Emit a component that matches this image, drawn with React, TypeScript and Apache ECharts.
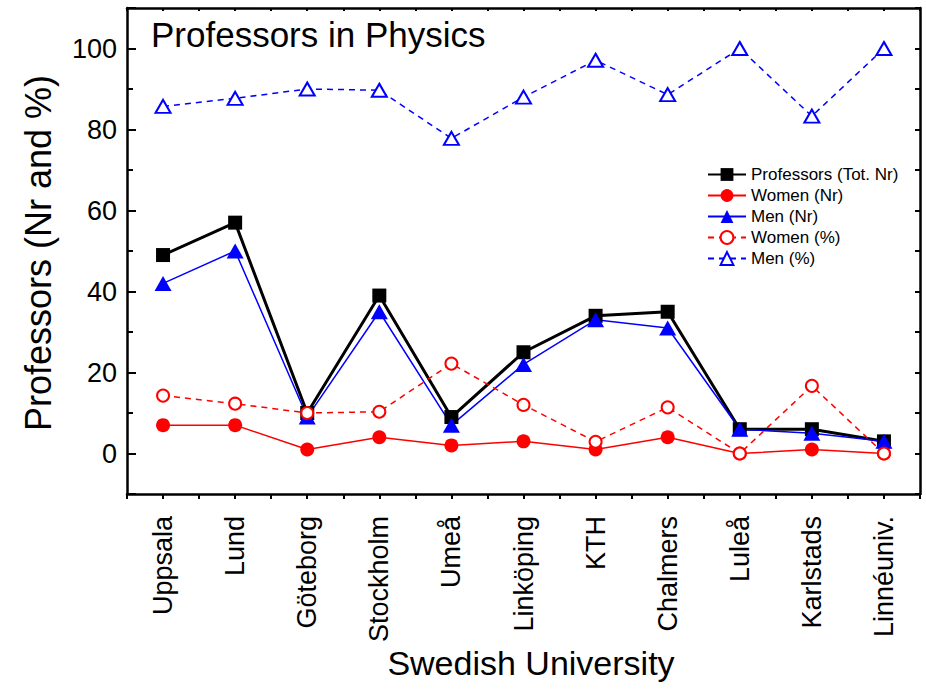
import React, { useEffect, useRef } from "react";
import * as echarts from "echarts";

const universities = ["Uppsala", "Lund", "Göteborg", "Stockholm", "Umeå", "Linköping", "KTH", "Chalmers", "Luleå", "Karlstads", "Linnéuniv."];
const professorsTotal = [49, 57, 10, 39, 9, 25, 34, 35, 6, 6, 3];
const womenNr = [7, 7, 1, 4, 2, 3, 1, 4, 0, 1, 0];
const menNr = [42, 50, 9, 35, 7, 22, 33, 31, 6, 5, 3];
const womenPct = [14.3, 12.3, 10, 10.3, 22.2, 12, 2.9, 11.4, 0, 16.7, 0];
const menPct = [85.7, 87.7, 90, 89.7, 77.8, 88, 97.1, 88.6, 100, 83.3, 100];
const yLabelValues = [0, 20, 40, 60, 80, 100];

const FONT = "Liberation Sans, Arial, sans-serif";

export default function App() {
  const ref = useRef<HTMLDivElement>(null);
  useEffect(() => {
    if (!ref.current) return;
    const chart = echarts.init(ref.current, null, { renderer: "svg" });
    const black = "#000";
    const red = "#ff0000";
    const blue = "#0000ff";
    chart.setOption({
      animation: false,
      backgroundColor: "#fff",
      textStyle: { fontFamily: FONT },
      title: {
        text: "Professors in Physics",
        left: 146,
        top: 12,
        textStyle: { fontSize: 35, fontWeight: "normal", color: black, fontFamily: FONT },
      },
      grid: { left: 127, top: 8, right: 6, bottom: 195, containLabel: false },
      legend: {
        orient: "vertical",
        left: 702,
        top: 161,
        itemWidth: 38,
        itemHeight: 16,
        itemGap: 4,
        textStyle: { fontSize: 17, color: black, fontFamily: FONT },
        data: ["Professors (Tot. Nr)", "Women (Nr)", "Men (Nr)", "Women (%)", "Men (%)"],
      },
      xAxis: [
        {
          type: "category",
          data: universities,
          position: "bottom",
          boundaryGap: true,
          axisLine: { onZero: false, lineStyle: { color: black, width: 2.5 } },
          axisTick: { alignWithLabel: true, length: 9, lineStyle: { color: black, width: 2 } },
          axisLabel: { rotate: 90, fontSize: 27, color: black, margin: 22, fontFamily: FONT },
          splitLine: { show: false },
        },
        {
          type: "value",
          position: "bottom",
          min: -0.5,
          max: 10.5,
          interval: 0.5,
          axisLine: { show: false, onZero: false },
          axisTick: { show: true, length: 5, lineStyle: { color: black, width: 2 } },
          axisLabel: { show: false },
          splitLine: { show: false },
        },
        {
          type: "value",
          position: "top",
          min: -0.5,
          max: 10.5,
          interval: 0.5,
          axisLine: { show: true, onZero: false, lineStyle: { color: black, width: 2.5 } },
          axisTick: { show: true, inside: true, length: 3, lineStyle: { color: black, width: 2 } },
          axisLabel: { show: false },
          splitLine: { show: false },
        },
      ],
      yAxis: [
        {
          type: "value",
          position: "left",
          min: -10,
          max: 110,
          splitNumber: 6,
          axisLine: { show: true, onZero: false, lineStyle: { color: black, width: 2.5 } },
          axisTick: { show: true, inside: true, length: 9, lineStyle: { color: black, width: 2 } },
          minorTick: { show: true, splitNumber: 2, length: 6, lineStyle: { color: black, width: 2 } },
          axisLabel: {
            fontSize: 27,
            color: black,
            margin: 10,
            fontFamily: FONT,
            formatter: (v: number) => (yLabelValues.indexOf(v) >= 0 ? String(v) : ""),
          },
          splitLine: { show: false },
        },
        {
          type: "value",
          position: "right",
          min: -10,
          max: 110,
          splitNumber: 6,
          axisLine: { show: true, onZero: false, lineStyle: { color: black, width: 2.5 } },
          axisTick: { show: true, inside: true, length: 5, lineStyle: { color: black, width: 2 } },
          minorTick: { show: true, splitNumber: 2, length: 5, lineStyle: { color: black, width: 2 } },
          axisLabel: { show: false },
          splitLine: { show: false },
        },
      ],
      graphic: [
        {
          type: "text",
          x: 38,
          y: 253,
          rotation: Math.PI / 2,
          style: {
            text: "Professors (Nr and %)",
            fontSize: 36,
            fontFamily: FONT,
            fill: black,
            textAlign: "center",
            textVerticalAlign: "middle",
          },
        },
        {
          type: "text",
          x: 531,
          y: 663,
          style: {
            text: "Swedish University",
            fontSize: 34,
            fontFamily: FONT,
            fill: black,
            textAlign: "center",
            textVerticalAlign: "middle",
          },
        },
      ],
      series: [
        {
          name: "Professors (Tot. Nr)",
          type: "line",
          data: professorsTotal,
          symbol: "rect",
          symbolSize: 14,
          lineStyle: { color: black, width: 3 },
          itemStyle: { color: black },
        },
        {
          name: "Women (Nr)",
          type: "line",
          data: womenNr,
          symbol: "circle",
          symbolSize: 14,
          lineStyle: { color: red, width: 1.5 },
          itemStyle: { color: red },
        },
        {
          name: "Men (Nr)",
          type: "line",
          data: menNr,
          symbol: "triangle",
          symbolSize: [17, 15],
          lineStyle: { color: blue, width: 1.5 },
          itemStyle: { color: blue },
        },
        {
          name: "Women (%)",
          type: "line",
          data: womenPct,
          symbol: "emptyCircle",
          symbolSize: 12,
          lineStyle: { color: red, width: 1.5, type: [6, 5] },
          itemStyle: { color: red, borderColor: red, borderWidth: 2.5 },
        },
        {
          name: "Men (%)",
          type: "line",
          data: menPct,
          symbol: "emptyTriangle",
          symbolSize: [15, 13],
          lineStyle: { color: blue, width: 1.5, type: [6, 5] },
          itemStyle: { color: blue, borderColor: blue, borderWidth: 2.5 },
        },
      ],
    });
    return () => chart.dispose();
  }, []);
  return (
    <div
      ref={ref}
      style={{ position: "fixed", left: 0, top: 0, width: 926, height: 689, background: "#fff" }}
    />
  );
}
